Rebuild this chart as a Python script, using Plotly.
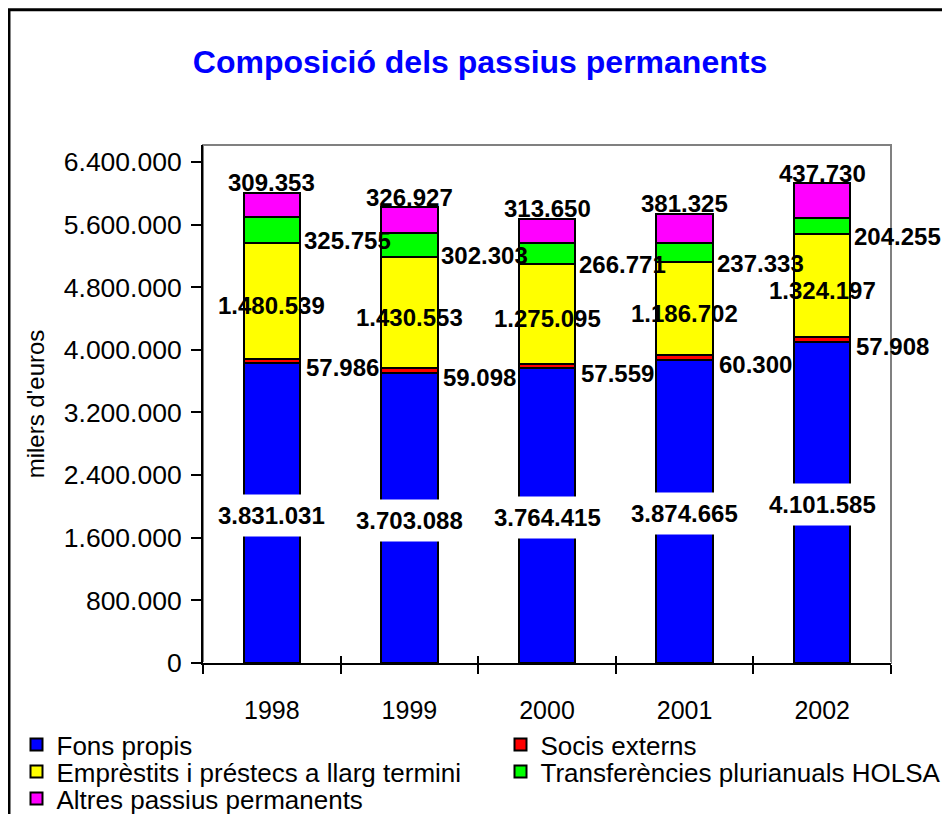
import plotly.graph_objects as go

# Composició dels passius permanents (milers d'euros)
years = ["1998", "1999", "2000", "2001", "2002"]
fons_propis = [3831031, 3703088, 3764415, 3874665, 4101585]
socis_externs = [57986, 59098, 57559, 60300, 57908]
emprestits = [1480539, 1430553, 1275095, 1186702, 1324197]
transferencies = [325755, 302303, 266771, 237333, 204255]
altres = [309353, 326927, 313650, 381325, 437730]

y_ticks = [0, 800000, 1600000, 2400000, 3200000, 4000000, 4800000, 5600000, 6400000]

FONT = "Arial, Liberation Sans, sans-serif"
W, H = 950, 814


def fmt(v):
    return f"{v:,}".replace(",", ".")


def lbl(v):
    return "<b>" + fmt(v) + "</b>"


# name, values, colour, legend id, legend x (container), legend top (px from top)
series = [
    ("Fons propis", fons_propis, "#0000FF", "legend", 8.5, 713),
    ("Socis externs", socis_externs, "#FF0000", "legend2", 492.5, 713),
    ("Emprèstits i préstecs a llarg termini", emprestits, "#FFFF00", "legend3", 8.5, 740),
    ("Transferències plurianuals HOLSA", transferencies, "#00FF00", "legend4", 492.5, 740),
    ("Altres passius permanents", altres, "#FF00FF", "legend5", 8.5, 767),
]

fig = go.Figure()

legends = {}
for name, vals, color, leg, lx, ly in series:
    fig.add_trace(go.Bar(
        x=years, y=vals, name=name, width=0.41,
        marker=dict(color=color, line=dict(color="black", width=2)),
        legend=leg,
    ))
    legends[leg] = dict(orientation="h", xref="container", yref="container",
                        x=lx / W, y=1 - ly / H, yanchor="top",
                        font=dict(size=26), bgcolor="rgba(0,0,0,0)")

# invisible trace so the overlay axis (inner tick marks) gets drawn
fig.add_trace(go.Scatter(x=years, y=fons_propis, mode="none", xaxis="x2",
                         showlegend=False, hoverinfo="skip"))

# data labels
lab_font = dict(family=FONT, size=24, color="black")
anns = []
for i in range(len(years)):
    base = 0
    # Fons propis: centred, white box cutting the bar
    anns.append(dict(x=i, y=base + fons_propis[i] / 2, text=lbl(fons_propis[i]),
                     showarrow=False, font=lab_font, bgcolor="white", borderpad=7, yshift=-2))
    base += fons_propis[i]
    anns.append(dict(x=i, y=base + socis_externs[i] / 2, text=lbl(socis_externs[i]),
                     showarrow=False, font=lab_font, xanchor="left", xshift=32, yshift=-7))
    base += socis_externs[i]
    anns.append(dict(x=i, y=base + emprestits[i] / 2, text=lbl(emprestits[i]),
                     showarrow=False, font=lab_font, yshift=-5))
    base += emprestits[i]
    anns.append(dict(x=i, y=base + transferencies[i] / 2, text=lbl(transferencies[i]),
                     showarrow=False, font=lab_font, xanchor="left", xshift=30, yshift=-11))
    base += transferencies[i]
    anns.append(dict(x=i, y=base + altres[i], text=lbl(altres[i]),
                     showarrow=False, font=lab_font, yshift=10))

fig.update_layout(
    width=W, height=H,
    margin=dict(l=195, r=67, t=137, b=159, autoexpand=False),
    paper_bgcolor="white", plot_bgcolor="white",
    barmode="stack",
    separators=",.",
    font=dict(family=FONT, size=26, color="black"),
    title=dict(text="<b>Composició dels passius permanents</b>",
               font=dict(family=FONT, size=32, color="#0000FF"),
               x=472 / W, xref="container", xanchor="center",
               y=1 - 54 / H, yref="container", yanchor="middle"),
    xaxis=dict(type="category", range=[-0.5, 4.5], showgrid=False,
               showline=True, linecolor="black", linewidth=2,
               ticks="outside", tickson="boundaries", ticklen=9, tickwidth=2, tickcolor="black",
               tickfont=dict(size=25), ticklabelstandoff=24),
    xaxis2=dict(type="category", overlaying="x", anchor="y", side="bottom",
                range=[-0.5, 4.5], showgrid=False, showline=False,
                ticks="inside", tickson="boundaries", ticklen=7, tickwidth=2, tickcolor="black",
                showticklabels=False),
    yaxis=dict(range=[0, 6617000], tickvals=y_ticks, tickformat=",d", showgrid=False,
               showline=True, linecolor="black", linewidth=2,
               ticks="outside", ticklen=10, tickwidth=2, tickcolor="black",
               tickfont=dict(size=26.5), ticklabelstandoff=4,
               title=dict(text="milers d'euros", font=dict(size=24), standoff=12)),
    annotations=anns,
    shapes=[
        # grey plot-area border
        dict(type="rect", xref="paper", yref="paper", x0=0, x1=1, y0=0, y1=1,
             line=dict(color="#808080", width=2), layer="below"),
        # outer chart frame
        dict(type="rect", xref="paper", yref="paper", x0=-0.282, x1=1.2, y0=-0.5, y1=1.261,
             line=dict(color="black", width=3)),
    ],
    **legends,
)

fig.write_html("out.html")
